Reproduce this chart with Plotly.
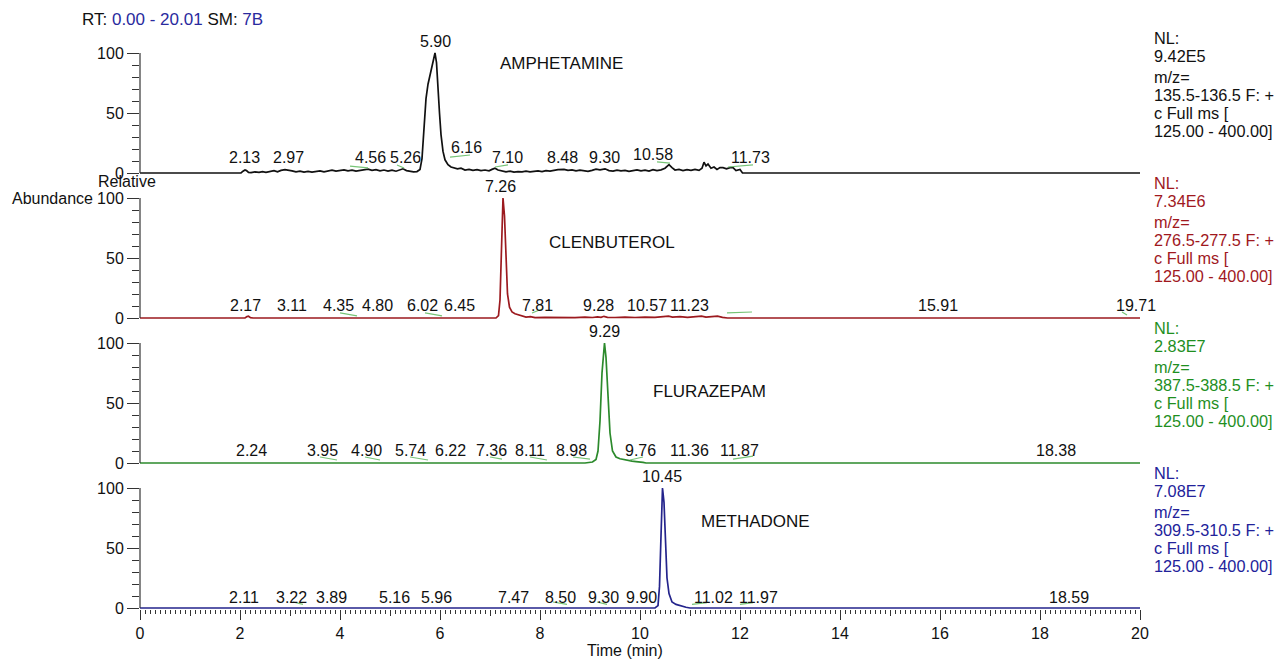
import plotly.graph_objects as go

# ---------------- data ----------------
COMPOUNDS = ["AMPHETAMINE", "CLENBUTEROL", "FLURAZEPAM", "METHADONE"]
NL_VALUES = ["9.42E5", "7.34E6", "2.83E7", "7.08E7"]
MZ_RANGES = ["135.5-136.5 F: +", "276.5-277.5 F: +", "387.5-388.5 F: +", "309.5-310.5 F: +"]
SCAN_TEXT = ["c Full ms [", "125.00 - 400.00]"]
X_TICKS = [0, 2, 4, 6, 8, 10, 12, 14, 16, 18, 20]
Y_TICKS = [0, 50, 100]

AMPH_RT = [0.00, 2.02, 2.06, 2.10, 2.13, 2.17, 2.22, 2.30, 2.38, 2.45,
           2.52, 2.60, 2.68, 2.75, 2.82, 2.90, 2.97, 3.04, 3.12, 3.20,
           3.28, 3.36, 3.44, 3.52, 3.60, 3.68, 3.76, 3.84, 3.92, 4.00,
           4.08, 4.16, 4.24, 4.32, 4.40, 4.48, 4.56, 4.64, 4.72, 4.80,
           4.88, 4.96, 5.04, 5.12, 5.19, 5.26, 5.33, 5.40, 5.47, 5.54,
           5.60, 5.64, 5.68, 5.72, 5.76, 5.80, 5.84, 5.88, 5.90, 5.93,
           5.96, 5.99, 6.02, 6.06, 6.10, 6.16, 6.22, 6.28, 6.35, 6.42,
           6.50, 6.58, 6.66, 6.74, 6.82, 6.90, 6.98, 7.04, 7.10, 7.16,
           7.24, 7.32, 7.40, 7.48, 7.56, 7.64, 7.72, 7.80, 7.88, 7.96,
           8.04, 8.12, 8.20, 8.28, 8.36, 8.48, 8.56, 8.64, 8.72, 8.80,
           8.88, 8.96, 9.04, 9.12, 9.20, 9.30, 9.38, 9.46, 9.54, 9.62,
           9.70, 9.78, 9.86, 9.94, 10.02, 10.10, 10.18, 10.26, 10.34, 10.42,
           10.50, 10.58, 10.64, 10.70, 10.78, 10.86, 10.94, 11.02, 11.10, 11.18,
           11.24, 11.28, 11.32, 11.36, 11.42, 11.48, 11.54, 11.60, 11.66, 11.73,
           11.80, 11.86, 11.92, 12.00, 12.05, 20.01]
AMPH_INT = [0, 0, 1.5, 2.5, 2.0, 0.5, 0.3, 1.0, 0.5, 1.2,
            0.6, 1.5, 2.0, 1.0, 2.2, 2.8, 2.5, 1.8, 1.0, 1.5,
            0.8, 1.4, 0.7, 1.2, 1.8, 1.0, 1.6, 2.3, 1.5, 2.0,
            2.6, 1.8, 2.4, 1.6, 2.2, 3.0, 3.2, 2.2, 2.8, 1.8,
            2.5, 1.6, 2.4, 1.5, 2.6, 3.5, 2.0, 1.2, 1.0, 1.2,
            3, 12, 40, 62, 74, 82, 90, 99, 100, 92,
            75, 50, 32, 18, 11, 7, 5, 4.5, 3.5, 4.0,
            2.5, 3.0, 2.2, 2.8, 2.0, 2.5, 1.8, 3.0, 4.0, 2.5,
            1.8, 1.0, 1.5, 0.8, 1.2, 1.0, 1.6, 1.0, 1.4, 1.8,
            1.2, 2.0, 1.5, 2.2, 2.8, 3.0, 2.2, 2.6, 1.8, 2.4,
            2.0, 1.4, 2.2, 3.2, 2.6, 3.5, 2.0, 1.6, 2.4, 1.8,
            2.2, 1.4, 2.0, 2.6, 1.8, 2.4, 1.6, 2.8, 2.0, 2.6,
            4.0, 7.0, 4.5, 2.5, 3.0, 2.0, 2.8, 2.2, 3.0, 2.2,
            4.0, 9.0, 6.0, 7.5, 4.0, 5.0, 3.0, 4.5, 4.5, 3.5,
            4.5, 4.5, 2.0, 3.0, 0, 0]

CLEN_RT = [0.00, 2.10, 2.14, 2.17, 2.21, 2.26, 7.12, 7.17, 7.20, 7.23,
           7.26, 7.29, 7.32, 7.35, 7.39, 7.44, 7.50, 7.57, 7.64, 7.72,
           7.81, 7.90, 8.10, 8.30, 8.50, 8.70, 8.90, 9.05, 9.15, 9.22,
           9.28, 9.35, 9.50, 9.70, 9.90, 10.10, 10.30, 10.45, 10.57, 10.65,
           10.80, 10.95, 11.10, 11.23, 11.32, 11.45, 11.55, 11.65, 11.75, 20.01]
CLEN_INT = [0, 0, 1.2, 1.5, 0.3, 0, 0, 2, 15, 55,
            100, 85, 45, 20, 9, 5, 3.5, 2.5, 1.5, 0.8,
            1.2, 0.3, 0.5, 0.3, 0.6, 0.3, 0.7, 0.4, 1.0, 0.5,
            1.4, 0.6, 0.4, 0.8, 0.4, 0.8, 0.5, 1.2, 1.6, 0.8,
            1.2, 0.6, 1.3, 1.6, 0.8, 1.4, 1.5, 0.5, 0, 0]

FLUR_RT = [0.00, 8.90, 9.05, 9.12, 9.16, 9.20, 9.24, 9.27, 9.29, 9.32,
           9.36, 9.40, 9.45, 9.52, 9.60, 9.70, 9.76, 9.84, 9.92, 10.00,
           10.06, 10.12, 20.01]
FLUR_INT = [0, 0, 0.8, 3, 10, 35, 75, 95, 100, 88,
            55, 25, 10, 5, 3.5, 2.5, 2, 1.5, 1.2, 1.0,
            0.5, 0, 0]

METH_RT = [0.00, 10.30, 10.36, 10.39, 10.42, 10.45, 10.48, 10.51, 10.54, 10.58,
           10.64, 10.72, 10.82, 10.92, 11.00, 20.01]
METH_INT = [0, 0, 2, 18, 60, 100, 88, 52, 25, 12,
            5, 3, 1.5, 0.6, 0, 0]

# peak retention-time labels
AMPH_PEAKS = ["2.13", "2.97", "4.56", "5.26", "5.90", "6.16", "7.10", "8.48", "9.30", "10.58", "11.73"]
CLEN_PEAKS = ["2.17", "3.11", "4.35", "4.80", "6.02", "6.45", "7.26", "7.81", "9.28", "10.57", "11.23", "15.91", "19.71"]
FLUR_PEAKS = ["2.24", "3.95", "4.90", "5.74", "6.22", "7.36", "8.11", "8.98", "9.29", "9.76", "11.36", "11.87", "18.38"]
METH_PEAKS = ["2.11", "3.22", "3.89", "5.16", "5.96", "7.47", "8.50", "9.30", "9.90", "10.45", "11.02", "11.97", "18.59"]

# ---------------- layout (placement of labels, not data) ----------------
AMPH_LBL_X = [2.08, 2.96, 4.60, 5.30, 5.90, 6.52, 7.34, 8.44, 9.28, 10.26, 12.20]
AMPH_LBL_DY = [15, 15, 15, 15, 131, 25, 15, 15, 15, 18, 15]
CLEN_LBL_X = [2.10, 3.04, 3.96, 4.74, 5.64, 6.38, 7.20, 7.94, 9.16, 10.14, 10.98, 15.96, 19.92]
CLEN_LBL_DY = [13, 13, 13, 13, 13, 13, 132, 13, 13, 13, 13, 13, 13]
FLUR_LBL_X = [2.22, 3.64, 4.52, 5.40, 6.20, 7.02, 7.80, 8.62, 9.28, 10.00, 10.98, 11.98, 18.32]
FLUR_LBL_DY = [13, 13, 13, 13, 13, 13, 13, 13, 132, 13, 13, 13, 13]
METH_LBL_X = [2.08, 3.02, 3.82, 5.08, 5.92, 7.46, 8.40, 9.26, 10.02, 10.44, 11.46, 12.36, 18.58]
METH_LBL_DY = [11, 11, 11, 11, 11, 11, 11, 11, 11, 132, 11, 11, 11]

# leader lines (x0, y0, x1, y1) in minutes / %
AMPH_LEAD = [(4.20, 5.8, 4.56, 4.2), (5.14, 6.7, 5.28, 4.2), (6.20, 13.3, 6.60, 15.0),
             (7.10, 5.0, 7.36, 6.7), (10.34, 9.2, 10.60, 8.3), (11.76, 5.0, 12.26, 6.7)]
CLEN_LEAD = [(4.00, 4.2, 4.34, 1.7), (5.70, 4.2, 6.04, 1.7), (7.84, 4.2, 8.04, 7.5),
             (11.74, 4.2, 12.24, 5.0), (19.64, 5.0, 19.74, 2.5)]
FLUR_LEAD = [(3.60, 5.0, 3.94, 2.5), (4.50, 5.0, 4.80, 2.5), (5.40, 5.0, 5.76, 2.5),
             (7.00, 5.0, 7.24, 3.3), (7.80, 5.0, 8.14, 2.5), (8.66, 5.0, 9.00, 3.3),
             (9.80, 2.5, 10.06, 5.0), (11.86, 3.3, 12.26, 5.8)]
METH_LEAD = [(3.06, 5.0, 3.26, 3.0), (8.26, 5.0, 8.54, 3.0), (9.14, 5.0, 9.34, 3.0),
             (11.04, 3.0, 11.34, 4.5), (12.00, 3.0, 12.26, 4.5)]

NAME_POS = [(8.42, 91), (9.44, 63), (11.38, 60), (12.30, 72)]

FONT = "Liberation Sans, Arial, Helvetica, sans-serif"
FS = 16          # tick labels, peak labels
FS_NAME = 17     # compound names, header
FS_INFO = 16.3   # right-hand info block
TRACE_COLORS = ["#111111", "#9c1a1f", "#2c8a2c", "#24248c"]
TEXT_COLORS = ["#111111", "#a0181e", "#1f8f1f", "#22229a"]
LEAD_COLOR = "#76c476"
AX_COLOR = "#333333"

W, H = 1274, 659
ML, MR, MT, MB = 140, 134, 40, 40
PLOT_H = H - MT - MB
PLOT_W = W - ML - MR
Y_LO, Y_HI = -1, 103
PX_PER_PCT = 1.2
ZERO_PX = [173, 318, 463, 608]


def paper_y(px):
    return (H - MB - px) / PLOT_H


def paper_x(px):
    return (px - ML) / PLOT_W


series = [(AMPH_RT, AMPH_INT), (CLEN_RT, CLEN_INT), (FLUR_RT, FLUR_INT), (METH_RT, METH_INT)]
peaks = [AMPH_PEAKS, CLEN_PEAKS, FLUR_PEAKS, METH_PEAKS]
lbl_x = [AMPH_LBL_X, CLEN_LBL_X, FLUR_LBL_X, METH_LBL_X]
lbl_dy = [AMPH_LBL_DY, CLEN_LBL_DY, FLUR_LBL_DY, METH_LBL_DY]
leads = [AMPH_LEAD, CLEN_LEAD, FLUR_LEAD, METH_LEAD]

fig = go.Figure()
annotations = []
shapes = []
layout = dict(
    width=W, height=H,
    margin=dict(l=ML, r=MR, t=MT, b=MB, autoexpand=False),
    paper_bgcolor="white", plot_bgcolor="white",
    showlegend=False,
    font=dict(family=FONT, size=FS, color="#111111"),
)

layout["xaxis"] = dict(
    range=[0, 20], anchor="y4", domain=[0, 1], automargin=False,
    tickmode="array", tickvals=X_TICKS, ticktext=[str(v) for v in X_TICKS],
    ticks="outside", ticklen=10, tickwidth=1.2, tickcolor=AX_COLOR,
    minor=dict(dtick=0.1, tick0=0, ticks="outside", ticklen=4, tickwidth=1, tickcolor=AX_COLOR, showgrid=False),
    showgrid=False, zeroline=False, showline=False,
    tickfont=dict(family=FONT, size=FS, color="#111111"),
)
layout["xaxis2"] = dict(
    range=[0, 20], anchor="y4", overlaying="x", domain=[0, 1], automargin=False,
    tickmode="array", tickvals=[1, 3, 5, 7, 9, 11, 13, 15, 17, 19],
    ticks="outside", ticklen=6, tickwidth=1, tickcolor=AX_COLOR,
    showticklabels=False, showgrid=False, zeroline=False, showline=False,
)

for i in range(4):
    yname = "y" if i == 0 else f"y{i + 1}"
    lname = "yaxis" if i == 0 else f"yaxis{i + 1}"
    z = ZERO_PX[i]
    dom = [paper_y(z - Y_LO * PX_PER_PCT), paper_y(z - Y_HI * PX_PER_PCT)]
    layout[lname] = dict(
        domain=dom, range=[Y_LO, Y_HI], anchor="x", automargin=False,
        tickmode="array", tickvals=Y_TICKS, ticktext=[str(v) for v in Y_TICKS],
        ticks="outside", ticklen=12, tickwidth=1.2, tickcolor=AX_COLOR,
        minor=dict(dtick=10, tick0=0, ticks="outside", ticklen=7, tickwidth=1, tickcolor=AX_COLOR, showgrid=False),
        showgrid=False, zeroline=False, showline=False,
        tickfont=dict(family=FONT, size=FS, color="#111111"),
    )
    rt, inten = series[i]
    fig.add_trace(go.Scatter(
        x=rt, y=inten, mode="lines", xaxis="x", yaxis=yname,
        line=dict(color=TRACE_COLORS[i], width=1.7), hoverinfo="skip",
    ))
    # y spine from 0 to 100
    shapes.append(dict(type="line", xref="x domain", yref=yname, x0=0, x1=0, y0=0, y1=100,
                       line=dict(color=AX_COLOR, width=1.2)))
    # leader lines
    for (x0, y0, x1, y1) in leads[i]:
        shapes.append(dict(type="line", xref="x", yref=yname, x0=x0, y0=y0, x1=x1, y1=y1,
                           line=dict(color=LEAD_COLOR, width=1.2)))
    # peak labels
    for txt, lx, dy in zip(peaks[i], lbl_x[i], lbl_dy[i]):
        annotations.append(dict(x=lx, y=0, xref="x", yref=yname, text=txt, showarrow=False,
                                xanchor="center", yanchor="middle", yshift=dy,
                                font=dict(family=FONT, size=FS, color="#111111")))
    # compound name
    nx, ny = NAME_POS[i]
    annotations.append(dict(x=nx, y=ny, xref="x", yref=yname, text=COMPOUNDS[i], showarrow=False,
                            xanchor="center", yanchor="middle",
                            font=dict(family=FONT, size=FS_NAME, color="#111111")))
    # right-hand info block
    lines = ["NL:", NL_VALUES[i], "m/z=", MZ_RANGES[i], SCAN_TEXT[0], SCAN_TEXT[1]]
    offs = [-15, 3, 24, 42, 60, 78]
    for ln, off in zip(lines, offs):
        annotations.append(dict(x=paper_x(1152), y=100, xref="paper", yref=yname, text=ln,
                                showarrow=False, xanchor="left", yanchor="middle", yshift=-off,
                                font=dict(family=FONT, size=FS_INFO, color=TEXT_COLORS[i])))

# invisible trace to activate the medium-tick axis
fig.add_trace(go.Scatter(x=[None], y=[None], xaxis="x2", yaxis="y4", mode="lines", hoverinfo="skip"))

BLUE = "#2a2a9e"
annotations.append(dict(x=paper_x(80), y=paper_y(19), xref="paper", yref="paper", showarrow=False,
                        xanchor="left", yanchor="middle",
                        text=f"RT: <span style='color:{BLUE}'>0.00 - 20.01</span> SM: <span style='color:{BLUE}'>7B</span>",
                        font=dict(family=FONT, size=FS_NAME, color="#111111")))
annotations.append(dict(x=paper_x(127), y=paper_y(181), xref="paper", yref="paper", showarrow=False,
                        xanchor="center", yanchor="middle", text="Relative",
                        font=dict(family=FONT, size=FS, color="#111111")))
annotations.append(dict(x=paper_x(95), y=paper_y(198), xref="paper", yref="paper", showarrow=False,
                        xanchor="right", yanchor="middle", text="Abundance",
                        font=dict(family=FONT, size=FS, color="#111111")))
annotations.append(dict(x=paper_x(625), y=paper_y(651), xref="paper", yref="paper", showarrow=False,
                        xanchor="center", yanchor="middle", text="Time (min)",
                        font=dict(family=FONT, size=FS, color="#111111")))

layout["annotations"] = annotations
layout["shapes"] = shapes
fig.update_layout(**layout)
fig.write_html("out.html", config={"displayModeBar": False},
               post_script="document.body.style.margin='0px';document.body.style.overflow='hidden';")
